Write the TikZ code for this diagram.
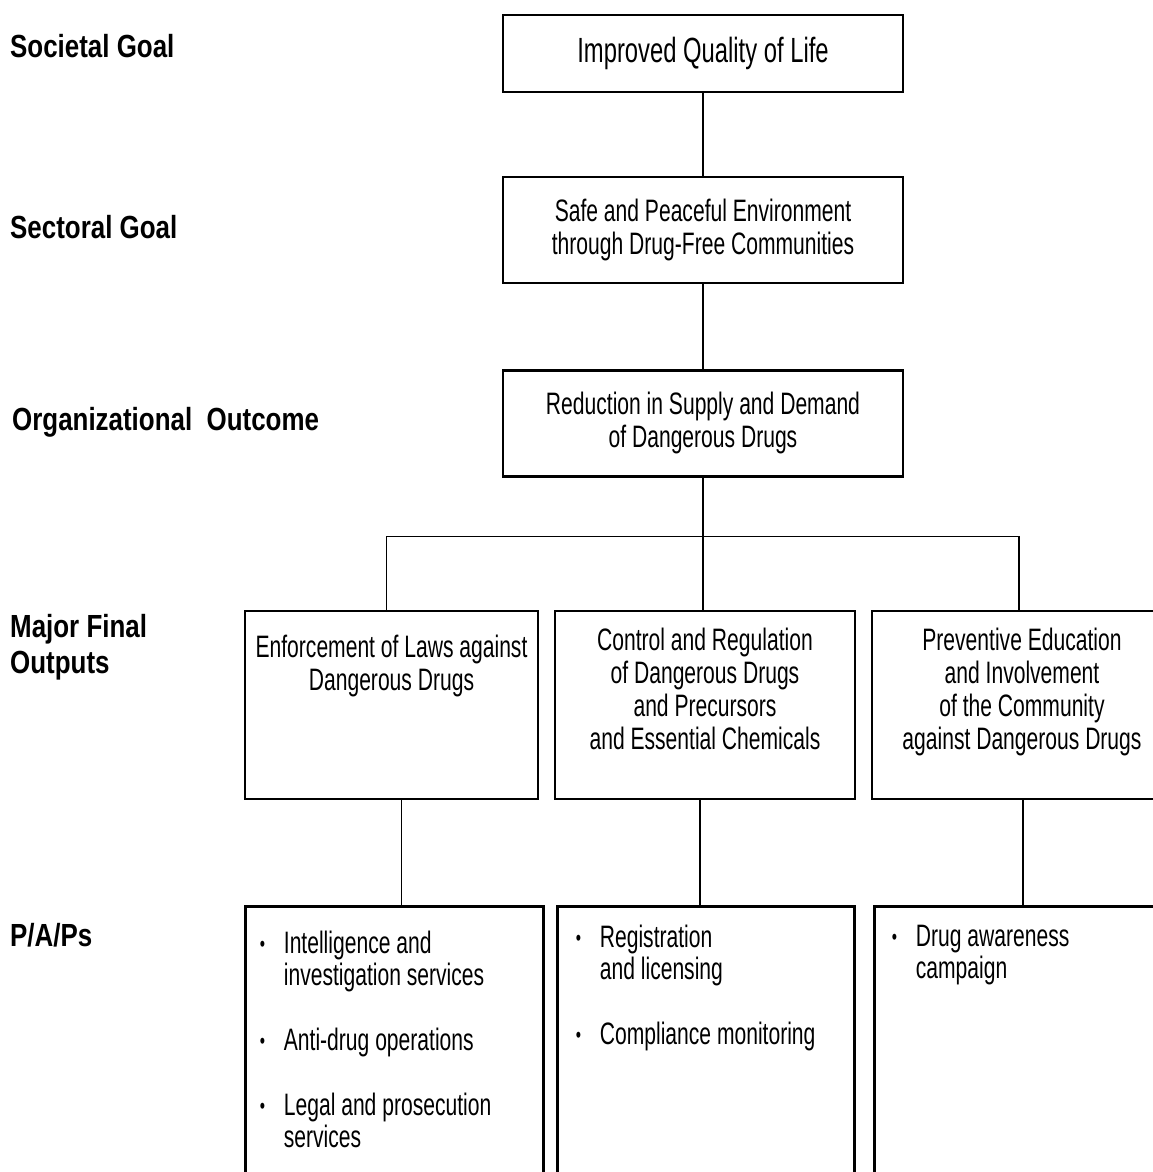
\documentclass[tikz,border=0pt]{standalone}
\usepackage{fontspec}
\setmainfont{Liberation Sans}
\newfontfamily\bodyfont{Liberation Sans}[FakeStretch=0.68]
\newfontfamily\headfont{Liberation Sans}[FakeStretch=0.81]
\usetikzlibrary{positioning}
\tikzset{
    state/.style={
           rectangle,
           draw=black, line width=2.2pt,
           minimum height=106pt,
           minimum width=400pt,
           inner sep=0pt,
           align=center,
           font=\bodyfont\fontsize{31}{33}\selectfont
           },
    horiz/.style={
           anchor=base west,
		   inner sep=0pt,
		   align=left,
		   font=\headfont\fontsize{32}{36}\selectfont\bfseries
           },
    output/.style={
           state,
           minimum width=295pt,
           minimum height=188pt,
           line width=2.6pt
           },
    pap/.style={
           state,
           anchor=north west,
           minimum width=298pt,
           minimum height=300pt,
           line width=3pt
           },
    txt/.style={
           anchor=north,
           inner sep=0pt,
           align=center,
           font=\bodyfont\fontsize{31}{33}\selectfont
           },
    list/.style={
           anchor=north west,
           inner sep=0pt,
           align=left,
           font=\bodyfont\fontsize{31}{32}\selectfont
           },
    link/.style={
           draw=black,
           line width=1.2pt
           }
}
\newcommand{\bul}{\makebox[24pt][l]{\raisebox{2pt}{\fontsize{22}{22}\selectfont\textbullet}}}
\newcommand{\ind}{\hspace*{24pt}}

\begin{document}
\begin{tikzpicture}[x=1pt, y=-1pt]
   \clip (0,0) rectangle (1153,1172);

   % levels
   \node[horiz] (h0) at (10,57)  {Societal Goal};
   \node[horiz] (h1) at (10,238) {Sectoral Goal};
   \node[horiz] (h2) at (12,430) {Organizational\ \ Outcome};
   \node[horiz] (h3) at (10,673) {Major Final\\Outputs};
   \node[horiz] (h4) at (10,946) {P/A/Ps};

   \node[state, minimum height=77pt, font=\bodyfont\fontsize{35}{38}\selectfont] (0) at (703,53.5) {Improved Quality of Life};
   \node[state] (1) [below=83pt of 0] {Safe and Peaceful Environment\\through Drug-Free Communities};
   \node[state] (2) [below=85pt of 1] {Reduction in Supply and Demand\\of Dangerous Drugs};
   \node[output, minimum width=300pt] (4) [below=132pt of 2, xshift=2pt] {};
   \node[output, minimum width=293pt] (3) [left=14.4pt of 4]  {};
   \node[output, minimum width=300pt] (5) [right=14.4pt of 4] {};

   \node[txt] (t3) at ([yshift=-25pt]3.north) {Enforcement of Laws against\\Dangerous Drugs};
   \node[txt] (t4) at ([yshift=-18pt]4.north) {Control and Regulation\\of Dangerous Drugs\\and Precursors\\and Essential Chemicals};
   \node[txt] (t5) at ([yshift=-18pt]5.north) {Preventive Education\\and Involvement\\of the Community\\against Dangerous Drugs};

   \node[pap] (6) at ([yshift=-105pt]3.south west) {};
   \node[pap, minimum width=297pt] (7) at ([xshift=2pt, yshift=-105pt]4.south west) {};
   \node[pap, minimum width=300pt] (8) at ([xshift=2pt, yshift=-105pt]5.south west) {};

   \node[list] (t6) at ([xshift=16pt, yshift=-26pt]6.north west) {\bul Intelligence and\\\ind investigation services\\[33pt]\bul Anti-drug operations\\[33pt]\bul Legal and prosecution\\\ind services};
   \node[list] (t7) at ([xshift=20pt, yshift=-20pt]7.north west) {\bul Registration\\\ind and licensing\\[33pt]\bul Compliance monitoring};
   \node[list] (t8) at ([xshift=19pt, yshift=-20pt]8.north west) {\bul Drug awareness\\\ind campaign};

   \coordinate (fork) at ([yshift=-59pt]2.south);

   \path[link]
    (0) edge (1)
    (1) edge (2)
    (2.south) edge (2.south |- 4.north)
    ([xshift=10pt]3.south) edge ([xshift=10pt]3.south |- 6.north)
    ([xshift=-5pt]4.south) edge ([xshift=-5pt]4.south |- 7.north)
    ([xshift=1pt]5.south) edge ([xshift=1pt]5.south |- 8.north)
       ;
   \draw[link] ([xshift=-5pt]3.north) |- (fork) -| ([xshift=-3pt]5.north);
\end{tikzpicture}
\end{document}
